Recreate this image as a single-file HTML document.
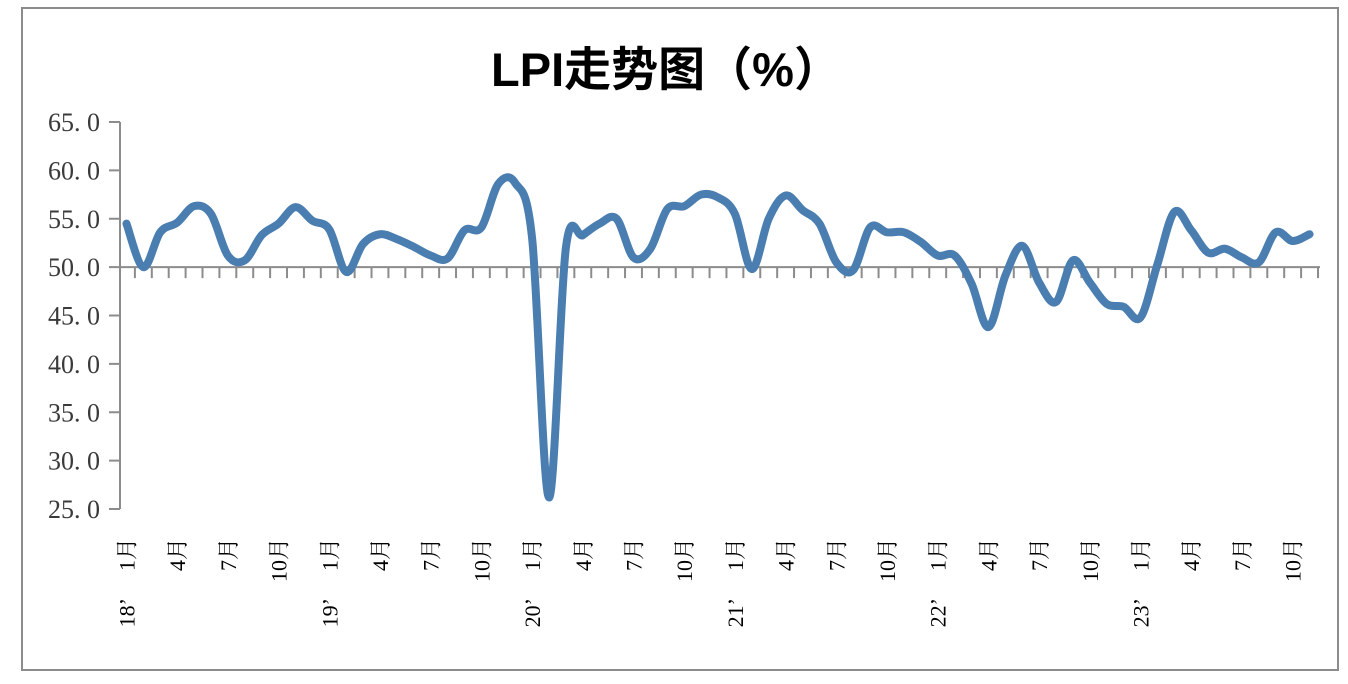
<!DOCTYPE html>
<html><head><meta charset="utf-8"><style>
body{margin:0;background:#fff;}
svg{display:block;}
</style></head><body>
<svg id="chart" width="1348" height="684" xmlns="http://www.w3.org/2000/svg">
<rect x="22" y="8" width="1316" height="662" fill="#fff" stroke="#8c8c8c" stroke-width="2"/>
<text x="666" y="86" text-anchor="middle" font-family="'Liberation Sans','Noto Sans CJK SC',sans-serif" font-weight="bold" font-size="47" fill="#000">LPI走势图（%）</text>
<g id="plot"></g>
</svg>
<script>
const years = ["18","19","20","21","22","23"];
const values = [54.5,50.0,53.6,54.6,56.3,55.5,51.2,50.7,53.3,54.5,56.2,54.8,
53.9,49.5,52.4,53.4,52.9,52.1,51.2,50.9,53.8,54.1,58.6,58.7,
53.0,26.2,52.0,53.3,54.5,55.0,51.0,51.9,56.0,56.3,57.5,57.2,
55.5,49.8,55.0,57.4,55.9,54.5,50.5,49.7,54.1,53.6,53.6,52.6,
51.2,51.2,48.3,43.8,49.1,52.2,48.4,46.4,50.7,48.4,46.2,45.9,
44.8,50.3,55.7,53.8,51.5,51.9,51.0,50.5,53.6,52.7,53.4];
const yTicks = [25,30,35,40,45,50,55,60,65];
const yTickLabels = ["25. 0","30. 0","35. 0","40. 0","45. 0","50. 0","55. 0","60. 0","65. 0"];

const NS="http://www.w3.org/2000/svg";
const g=document.getElementById('plot');
const x0=118, x1=1318, yMin=25, yMax=65, yTop=122, yBot=509;
const n=values.length, step=(x1-x0)/n;
const xs=i=>x0+step*(i+0.5);
const ys=v=>yBot-(v-yMin)/(yMax-yMin)*(yBot-yTop);
function mk(t,a){const e=document.createElementNS(NS,t);for(const k in a)e.setAttribute(k,a[k]);g.appendChild(e);return e;}
const serif="'Liberation Serif','Noto Serif CJK SC',serif";

let ya=mk('line',{x1:120,y1:yTop,x2:120,y2:yBot,stroke:'#8c8c8c','stroke-width':2});


yTicks.forEach((t,i)=>{
  const y=ys(t);
  const tk=mk('line',{x1:109,y1:y,x2:120,y2:y,stroke:'#8c8c8c','stroke-width':2});
  
  
  const tx=mk('text',{x:100,y:y+9,'text-anchor':'end','font-family':serif,'font-size':26,fill:'#3a3a3a'});
  tx.textContent=yTickLabels[i];
  
  
});
const ay=ys(50);
let xa=mk('line',{x1:120,y1:ay,x2:x1+2,y2:ay,stroke:'#8c8c8c','stroke-width':2});


for(let i=1;i<=n;i++){
  const x=x0+step*i;
  const tk=mk('line',{x1:x,y1:ay,x2:x,y2:ay+11,stroke:'#8c8c8c','stroke-width':2});
  
  
}
for(let i=0;i<n;i+=3){
  const m=(i%12)+1;
  const x=xs(i)+8;
  const tx=mk('text',{x:x,y:538,transform:`rotate(-90 ${x} 538)`,'text-anchor':'end','font-family':serif,'font-size':22,fill:'#000'});
  tx.textContent=m+"月";
  
  
  if(m===1){
    const yt=mk('text',{x:x,y:598,transform:`rotate(-90 ${x} 598)`,'text-anchor':'end','font-family':serif,'font-size':22,fill:'#000'});
    yt.textContent=years[Math.floor(i/12)]+"’";
    
    
  }
}
const pts=values.map((v,i)=>[xs(i),ys(v)]);
let d=`M${pts[0][0]},${pts[0][1]}`;
for(let i=0;i<pts.length-1;i++){
  const p0=pts[Math.max(0,i-1)],p1=pts[i],p2=pts[i+1],p3=pts[Math.min(pts.length-1,i+2)];
  const t=6;
  d+=` C${p1[0]+(p2[0]-p0[0])/t},${p1[1]+(p2[1]-p0[1])/t} ${p2[0]-(p3[0]-p1[0])/t},${p2[1]-(p3[1]-p1[1])/t} ${p2[0]},${p2[1]}`;
}
const ln=mk('path',{d:d,fill:'none',stroke:'#4a7eb0','stroke-width':8,'stroke-linecap':'round','stroke-linejoin':'round'});


</script>
</body></html>
